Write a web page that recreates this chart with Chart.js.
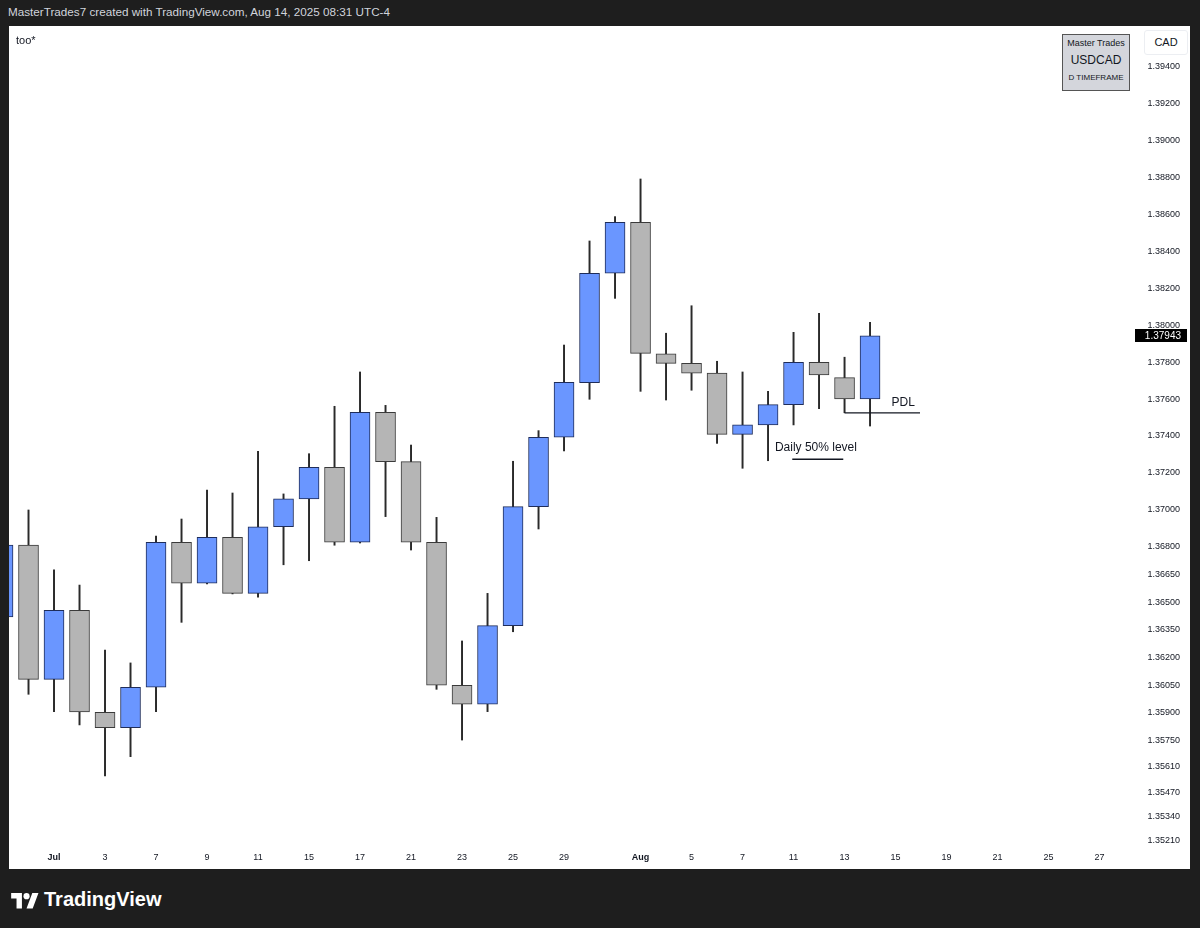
<!DOCTYPE html>
<html>
<head>
<meta charset="utf-8">
<title>USDCAD D</title>
<script src="https://cdn.jsdelivr.net/npm/chart.js@4.4.1/dist/chart.umd.min.js"></script>
<style>
  html, body { margin: 0; padding: 0; }
  body { width: 1200px; height: 928px; background: #1e1e1e; overflow: hidden; position: relative;
         font-family: "Liberation Sans", Arial, sans-serif; }
  #header { position: absolute; left: 8px; top: 5px; color: #d1d4dc; font-size: 11.7px; }
  #panel { position: absolute; left: 9px; top: 26px; width: 1181px; height: 843px; background: #fff; }
  #note { position: absolute; left: 7px; top: 8px; font-size: 11px; color: #131722; }
  #legendBox { position: absolute; left: 1053px; top: 8px; width: 66px; height: 55px; background: #d4d6dc;
               border: 1.5px solid #555; text-align: center; color: #131722; }
  #legendBox .a { font-size: 9px; margin-top: 3px; }
  #legendBox .b { font-size: 12px; margin-top: 5px; }
  #legendBox .c { font-size: 8px; margin-top: 6px; }
  #cadBox { position: absolute; left: 1135px; top: 4px; width: 42px; height: 23px; border: 1px solid #eceef2;
            border-radius: 3px; text-align: center; line-height: 23px; font-size: 11px; color: #131722; background: #fff; }
  #footer { position: absolute; left: 11px; top: 888px; display: flex; align-items: center; color: #fff; }
  #footer span { font-weight: bold; font-size: 20px; margin-left: 5px; }
</style>
</head>
<body>
<div id="header">MasterTrades7 created with TradingView.com, Aug 14, 2025 08:31 UTC-4</div>
<div id="panel">
  <canvas id="grafica" width="1181" height="843"></canvas>
  <div id="note">too*</div>
  <div id="legendBox"><div class="a">Master Trades</div><div class="b">USDCAD</div><div class="c">D TIMEFRAME</div></div>
  <div id="cadBox">CAD</div>
</div>
<div id="footer">
  <svg width="28" height="20" viewBox="0 0 36 26"><path fill="#fff" d="M14 24H7V11H0V4h14v20zM28 24h-8l7.5-20h8L28 24z"/><circle fill="#fff" cx="20" cy="8" r="4"/></svg>
  <span>TradingView</span>
</div>

<script>
// trading days (weekends skipped), Jun 27 -> Aug 28
const dates = [
  '2025-06-27', '2025-06-30', '2025-07-01', '2025-07-02', '2025-07-03', '2025-07-04',
  '2025-07-07', '2025-07-08', '2025-07-09', '2025-07-10', '2025-07-11',
  '2025-07-14', '2025-07-15', '2025-07-16', '2025-07-17', '2025-07-18',
  '2025-07-21', '2025-07-22', '2025-07-23', '2025-07-24', '2025-07-25',
  '2025-07-28', '2025-07-29', '2025-07-30', '2025-07-31', '2025-08-01',
  '2025-08-04', '2025-08-05', '2025-08-06', '2025-08-07', '2025-08-08',
  '2025-08-11', '2025-08-12', '2025-08-13', '2025-08-14', '2025-08-15',
  '2025-08-18', '2025-08-19', '2025-08-20', '2025-08-21', '2025-08-22',
  '2025-08-25', '2025-08-26', '2025-08-27', '2025-08-28'
];

const opens = [
  1.36419, 1.36809, 1.36081, 1.36455, 1.35902, 1.35819, 1.36038, 1.36824, 1.36602, 1.36851,
  1.36547, 1.36908, 1.37059, 1.37230, 1.36824, 1.37528, 1.37261, 1.36824, 1.36049, 1.35946,
  1.36372, 1.37017, 1.37393, 1.37689, 1.38282, 1.38558, 1.37846, 1.37794, 1.37741, 1.37409,
  1.37460, 1.37570, 1.37799, 1.37716, 1.37601
];
const highs = [
  1.36850, 1.36999, 1.36674, 1.36592, 1.36239, 1.36170, 1.36858, 1.36950, 1.37107, 1.37091,
  1.37317, 1.37086, 1.37304, 1.37561, 1.37747, 1.37566, 1.37351, 1.36959, 1.36289, 1.36547,
  1.37263, 1.37429, 1.37893, 1.38457, 1.38589, 1.38793, 1.37957, 1.38106, 1.37805, 1.37747,
  1.37642, 1.37962, 1.38065, 1.37827, 1.38016
];
const lows = [
  1.36380, 1.36000, 1.35906, 1.35834, 1.35557, 1.35662, 1.35906, 1.36390, 1.36598, 1.36544,
  1.36526, 1.36702, 1.36724, 1.36808, 1.36820, 1.36963, 1.36782, 1.36027, 1.35752, 1.35906,
  1.36339, 1.36896, 1.37319, 1.37599, 1.38146, 1.37642, 1.37595, 1.37648, 1.37360, 1.37225,
  1.37266, 1.37460, 1.37548, 1.37526, 1.37454
];
const closes = [
  1.36809, 1.36081, 1.36455, 1.35904, 1.35819, 1.36038, 1.36824, 1.36602, 1.36851, 1.36547,
  1.36908, 1.37059, 1.37230, 1.36824, 1.37528, 1.37261, 1.36824, 1.36049, 1.35946, 1.36372,
  1.37017, 1.37393, 1.37691, 1.38282, 1.38558, 1.37848, 1.37794, 1.37740, 1.37409, 1.37460,
  1.37570, 1.37799, 1.37731, 1.37601, 1.37943
];

// axis labels
const xTickDates = [
  '2025-07-01', '2025-07-03', '2025-07-07', '2025-07-09', '2025-07-11', '2025-07-15', '2025-07-17',
  '2025-07-21', '2025-07-23', '2025-07-25', '2025-07-29', '2025-08-01', '2025-08-05', '2025-08-07',
  '2025-08-11', '2025-08-13', '2025-08-15', '2025-08-19', '2025-08-21', '2025-08-25', '2025-08-27'
];
const yTicks = [
  1.394, 1.392, 1.390, 1.388, 1.386, 1.384, 1.382, 1.380, 1.378, 1.376, 1.374, 1.372, 1.370,
  1.368, 1.3665, 1.365, 1.3635, 1.362, 1.3605, 1.359, 1.3575, 1.3561, 1.3547, 1.3534, 1.3521
];

// drawn levels: [x from, x to, price]
const pdlLine = [33, 35.96, 1.37525];
const halfLine = [30.95, 32.95, 1.37274];
const notes = [
  { text: 'Daily 50% level', x: 30.27, y: 1.37337 },
  { text: 'PDL', x: 34.84, y: 1.37582 }
];

const months = ['Jan', 'Feb', 'Mar', 'Apr', 'May', 'Jun', 'Jul', 'Aug', 'Sep', 'Oct', 'Nov', 'Dec'];
const BLUE = '#6a96ff', BLUE_EDGE = '#1f2d5a', GRAY = '#b5b5b5', GRAY_EDGE = '#3a3a3a';

const up = closes.map((c, i) => c >= opens[i]);
const cuerpos = opens.map((o, i) => ({ x: i, y: [o, closes[i]] }));
const mechas = opens.map((o, i) => ({ x: i, y: [lows[i], highs[i]] }));

function etiquetaFecha(i) {
  const d = dates[i];
  if (!d) return '';
  const m = parseInt(d.slice(5, 7), 10), day = parseInt(d.slice(8), 10);
  return day === 1 ? months[m - 1] : String(day);
}

const overlay = {
  id: 'overlay',
  afterDatasetsDraw(chart) {
    const ctx = chart.ctx, x = chart.scales.x, y = chart.scales.y;
    ctx.save();
    ctx.fillStyle = '#131722';
    ctx.font = '12px "Liberation Sans", Arial, sans-serif';
    ctx.textBaseline = 'middle';
    notes.forEach(n => ctx.fillText(n.text, x.getPixelForValue(n.x), y.getPixelForValue(n.y)));
    ctx.restore();
  },
  afterDraw(chart) {
    // last price tag on the axis
    const ctx = chart.ctx, y = chart.scales.y, area = chart.chartArea;
    const last = closes[closes.length - 1];
    const py = Math.round(y.getPixelForValue(last));
    ctx.save();
    ctx.fillStyle = '#000';
    ctx.fillRect(area.right, py - 7, 52, 13);
    ctx.fillStyle = '#fff';
    ctx.font = '10px "Liberation Sans", Arial, sans-serif';
    ctx.textAlign = 'right';
    ctx.textBaseline = 'middle';
    ctx.fillText(last.toFixed(5), area.right + 46, py);
    ctx.restore();
  }
};

const ctx = document.getElementById('grafica').getContext('2d');
new Chart(ctx, {
  type: 'bar',
  data: {
    datasets: [
      {
        label: 'body',
        data: cuerpos,
        grouped: false,
        order: 1,
        barThickness: 20,
        maxBarThickness: 20,
        backgroundColor: up.map(u => u ? BLUE : GRAY),
        borderColor: up.map(u => u ? BLUE_EDGE : GRAY_EDGE),
        borderWidth: 1,
        borderSkipped: false
      },
      {
        label: 'wick',
        data: mechas,
        grouped: false,
        order: 2,
        barThickness: 1.3,
        maxBarThickness: 1.3,
        backgroundColor: '#2a2a2a',
        borderWidth: 0
      },
      {
        type: 'line',
        label: 'PDL',
        data: [{ x: pdlLine[0], y: pdlLine[2] }, { x: pdlLine[1], y: pdlLine[2] }],
        borderColor: '#131722',
        borderWidth: 1.3,
        pointRadius: 0,
        order: 0
      },
      {
        type: 'line',
        label: '50%',
        data: [{ x: halfLine[0], y: halfLine[2] }, { x: halfLine[1], y: halfLine[2] }],
        borderColor: '#131722',
        borderWidth: 1.3,
        pointRadius: 0,
        order: 0
      }
    ]
  },
  options: {
    responsive: false,
    animation: false,
    layout: { padding: { left: 0, top: 0, bottom: 0, right: 10 } },
    plugins: { legend: { display: false }, tooltip: { enabled: false } },
    scales: {
      x: {
        type: 'linear',
        offset: false,
        min: 0.235,
        max: 44.39,
        grid: { display: false, drawTicks: false },
        border: { display: false },
        afterBuildTicks: axis => { axis.ticks = xTickDates.map(d => ({ value: dates.indexOf(d) })); },
        afterFit: axis => { axis.height = 21; axis.paddingLeft = 0; axis.paddingRight = 0; },
        ticks: {
          autoSkip: false,
          maxRotation: 0,
          padding: 4,
          color: '#131722',
          font: ctx => ({
            size: 9,
            family: '"Liberation Sans", Arial, sans-serif',
            weight: ctx.tick && etiquetaFecha(ctx.tick.value).length === 3 ? 'bold' : 'normal'
          }),
          callback: v => etiquetaFecha(v)
        }
      },
      y: {
        position: 'right',
        min: 1.351669,
        max: 1.396222,
        grid: { display: false, drawTicks: false },
        border: { display: false },
        afterBuildTicks: axis => { axis.ticks = yTicks.map(v => ({ value: v })); },
        afterFit: axis => { axis.width = 45; axis.paddingTop = 0; axis.paddingBottom = 0; },
        ticks: {
          autoSkip: false,
          crossAlign: 'far',
          padding: 0,
          color: '#131722',
          font: { size: 9, family: '"Liberation Sans", Arial, sans-serif' },
          callback: v => v.toFixed(5)
        }
      }
    }
  },
  plugins: [overlay]
});
</script>
</body>
</html>
